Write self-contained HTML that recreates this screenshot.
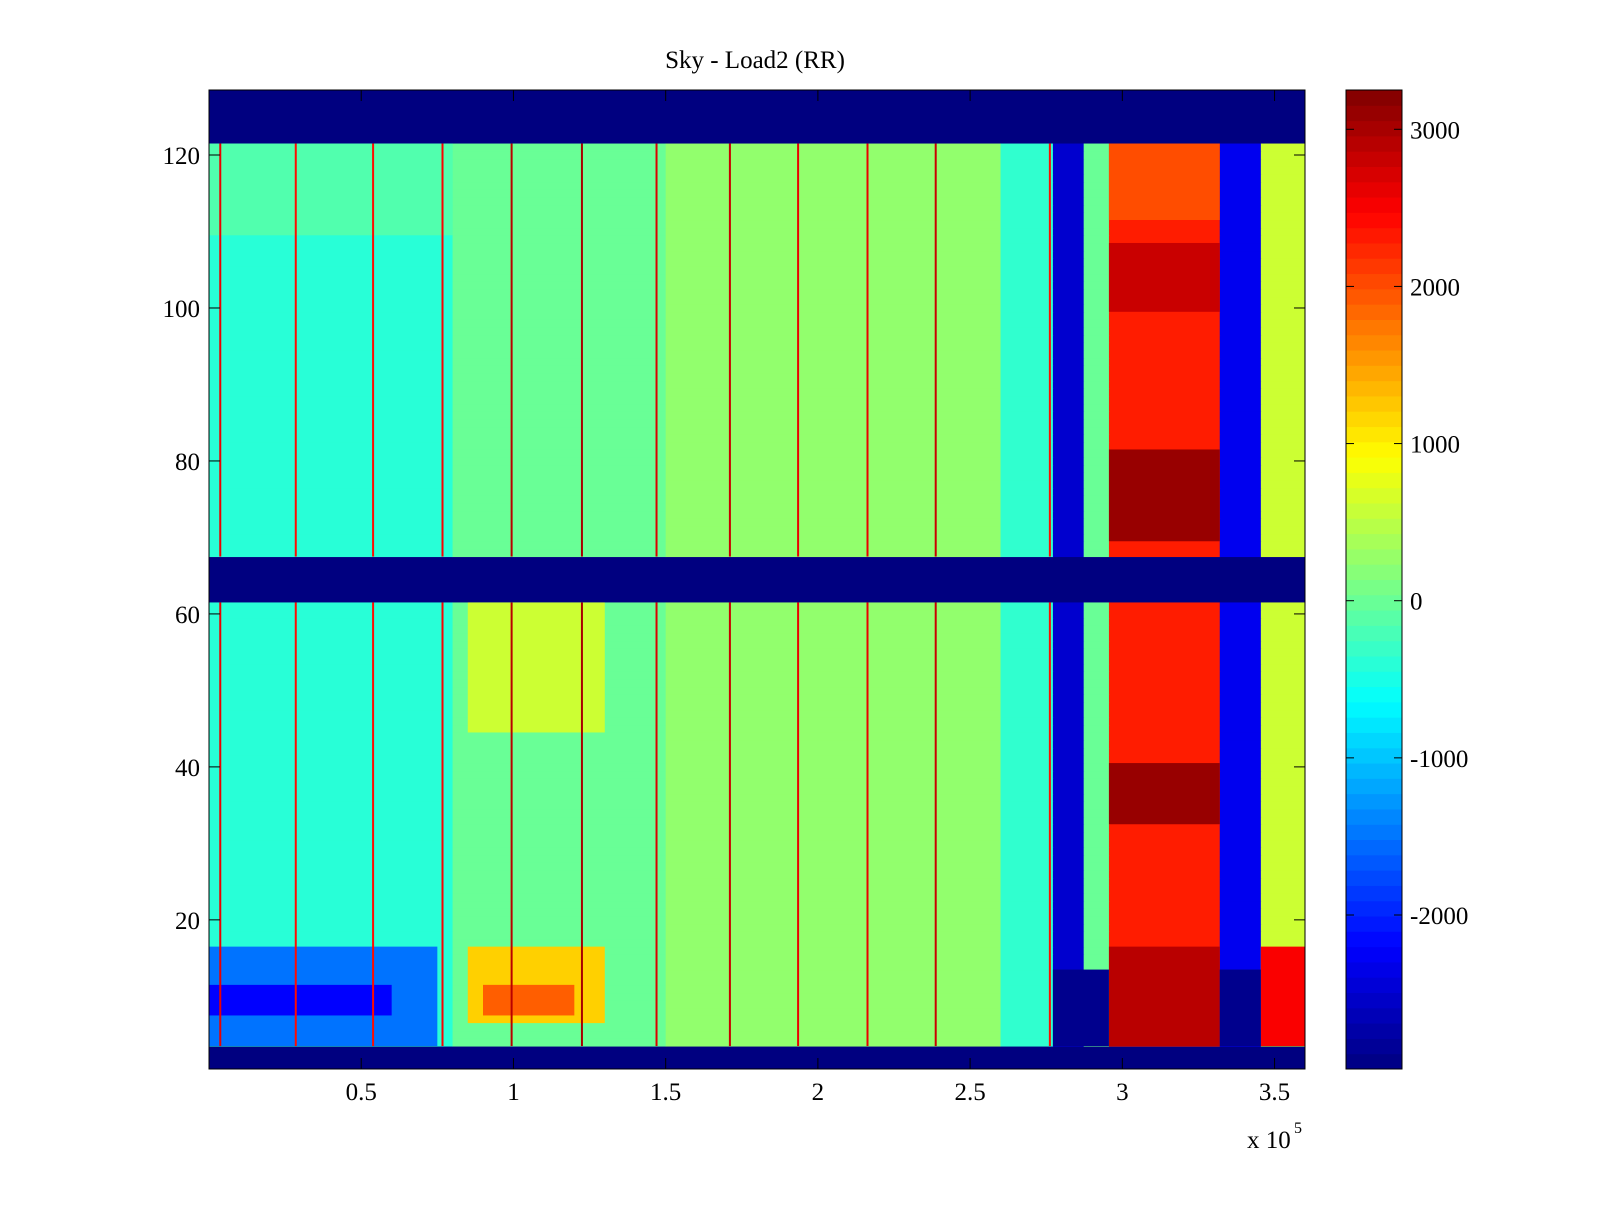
<!DOCTYPE html>
<html><head><meta charset="utf-8"><title>Sky - Load2 (RR)</title>
<style>
body{margin:0;background:#fff;}
svg text{font-family:"Liberation Serif",serif;fill:#000;}
</style></head>
<body>
<svg id="chart" width="1600" height="1200" xmlns="http://www.w3.org/2000/svg">
<rect width="1600" height="1200" fill="#fff"/>
<text x="755" y="68" font-size="25" text-anchor="middle">Sky - Load2 (RR)</text>
<g id="cells"></g>
<g id="axes"></g>
<g id="cbar"></g>
</svg>
<script>
// ---- data ----
const segStarts = [0, 0.8, 1.5, 2.6, 2.772, 2.873, 2.956, 3.32, 3.455];
const segValues = [-400, 0, 250, -350, -2500, 0, 2300, -2300, 600];
const blankRows = [1,2,3,62,63,64,65,66,67,122,123,124,125,126,127,128];
// patches: [x0, x1, rowFrom, rowTo, value]
const patchX0 = [0, 0, 0.85, 0.9, 0.85, 2.956, 2.956, 2.956, 2.956, 3.455, 2.772, 3.32, 0, 2.956];
const patchX1 = [0.75, 0.6, 1.3, 1.2, 1.3, 3.32, 3.32, 3.32, 3.32, 3.6, 2.956, 3.455, 0.8, 3.32];
const patchR0 = [4, 8, 7, 8, 45, 70, 33, 4, 100, 4, 4, 4, 110, 112];
const patchR1 = [16, 11, 16, 11, 61, 81, 40, 16, 108, 16, 13, 13, 121, 121];
const patchV = [-1500, -2200, 1200, 1900, 600, 3100, 3100, 2900, 2800, 2500, -2900, -2900, -150, 2000];
const spikeX = [0.037, 0.285, 0.539, 0.767, 0.994, 1.225, 1.47, 1.711, 1.935, 2.163, 2.387, 2.762];
const spikeV = [2600, 2400, 2400, 2500, 2900, 3000, 2700, 2800, 2600, 2600, 2800, 2400];
const xTicks = [0.5, 1, 1.5, 2, 2.5, 3, 3.5];
const xTickLabels = ["0.5","1","1.5","2","2.5","3","3.5"];
const yTicks = [20, 40, 60, 80, 100, 120];
const cTicks = [-2000, -1000, 0, 1000, 2000, 3000];

// ---- scales ----
const PX0=209, PX1=1305, PY0=90, PY1=1069;
const XMIN=0, XMAX=3.6, YMIN=0.5, YMAX=128.5;
const CMIN=-2980, CMAX=3250;
const sx = v => PX0 + (v-XMIN)/(XMAX-XMIN)*(PX1-PX0);
const sy = v => PY1 - (v-YMIN)/(YMAX-YMIN)*(PY1-PY0);
function jet(v){
  let t=(v-CMIN)/(CMAX-CMIN); t=Math.max(0,Math.min(1,t));
  const f=x=>Math.max(0,Math.min(1,x));
  const r=f(1.5-Math.abs(4*t-3)), g=f(1.5-Math.abs(4*t-2)), b=f(1.5-Math.abs(4*t-1));
  return `rgb(${Math.round(r*255)},${Math.round(g*255)},${Math.round(b*255)})`;
}
const NS="http://www.w3.org/2000/svg";
function mk(tag, attrs, parent){const e=document.createElementNS(NS,tag);for(const k in attrs)e.setAttribute(k,attrs[k]);parent.appendChild(e);return e;}

const cells=document.getElementById('cells');
const bg=mk('rect',{x:PX0,y:PY0,width:PX1-PX0,height:PY1-PY0,fill:jet(CMIN)},cells);


for(let row=1; row<=128; row++){
  if(blankRows.includes(row)) continue;
  for(let s=0;s<segStarts.length;s++){
    const x0=segStarts[s], x1=(s+1<segStarts.length)?segStarts[s+1]:XMAX;
    const r=mk('rect',{x:sx(x0),y:sy(row+0.5),width:sx(x1)-sx(x0)+0.5,height:sy(row-0.5)-sy(row+0.5)+0.5,fill:jet(segValues[s])},cells);
    
    
  }
}
for(let p=0;p<patchV.length;p++){
  const r=mk('rect',{x:sx(patchX0[p]),y:sy(patchR1[p]+0.5),width:sx(patchX1[p])-sx(patchX0[p]),height:sy(patchR0[p]-0.5)-sy(patchR1[p]+0.5),fill:jet(patchV[p])},cells);
  
  
}
const bands=[[4,61],[68,121]];
for(let i=0;i<spikeX.length;i++){
  for(const b of bands){
    const r=mk('rect',{x:sx(spikeX[i])-1,y:sy(b[1]+0.5),width:2,height:sy(b[0]-0.5)-sy(b[1]+0.5),fill:jet(spikeV[i])},cells);
    
    
  }
}

// axes
const axes=document.getElementById('axes');
const frame=mk('rect',{x:PX0,y:PY0,width:PX1-PX0,height:PY1-PY0,fill:'none',stroke:'#000','stroke-width':1},axes);


xTicks.forEach((v,i)=>{
  const x=sx(v);
  mk('line',{x1:x,x2:x,y1:PY1,y2:PY1-11,stroke:'#000'},axes);
  mk('line',{x1:x,x2:x,y1:PY0,y2:PY0+11,stroke:'#000'},axes);
  const t=mk('text',{x:x,y:1100,'font-size':25,'text-anchor':'middle'},axes);
  t.textContent=xTickLabels[i];
  
  
});
yTicks.forEach(v=>{
  const y=sy(v);
  mk('line',{x1:PX0,x2:PX0+11,y1:y,y2:y,stroke:'#000'},axes);
  mk('line',{x1:PX1,x2:PX1-11,y1:y,y2:y,stroke:'#000'},axes);
  const t=mk('text',{x:200,y:y+9,'font-size':25,'text-anchor':'end'},axes);
  t.textContent=String(v);
  
  
});
const ex=mk('text',{x:1247,y:1148,'font-size':25},axes);
ex.textContent='x 10';


const ex2=mk('text',{x:1294,y:1133,'font-size':16},axes);
ex2.textContent='5';



// colorbar
const cb=document.getElementById('cbar');
const CX0=1346, CX1=1402;
const cy=v=>PY1-(v-CMIN)/(CMAX-CMIN)*(PY1-PY0);
const N=64;
for(let k=0;k<N;k++){
  const v0=CMIN+(CMAX-CMIN)*k/N, v1=CMIN+(CMAX-CMIN)*(k+1)/N;
  const r=mk('rect',{x:CX0,y:cy(v1),width:CX1-CX0,height:cy(v0)-cy(v1)+0.5,fill:jet((v0+v1)/2)},cb);
  
  
}
mk('rect',{x:CX0,y:PY0,width:CX1-CX0,height:PY1-PY0,fill:'none',stroke:'#000'},cb);
cTicks.forEach(v=>{
  const y=cy(v);
  mk('line',{x1:CX0,x2:CX0+8,y1:y,y2:y,stroke:'#000'},cb);
  mk('line',{x1:CX1,x2:CX1-8,y1:y,y2:y,stroke:'#000'},cb);
  const t=mk('text',{x:1410,y:y+9,'font-size':25},cb);
  t.textContent=String(v);
  
  
});
</script>
</body></html>
